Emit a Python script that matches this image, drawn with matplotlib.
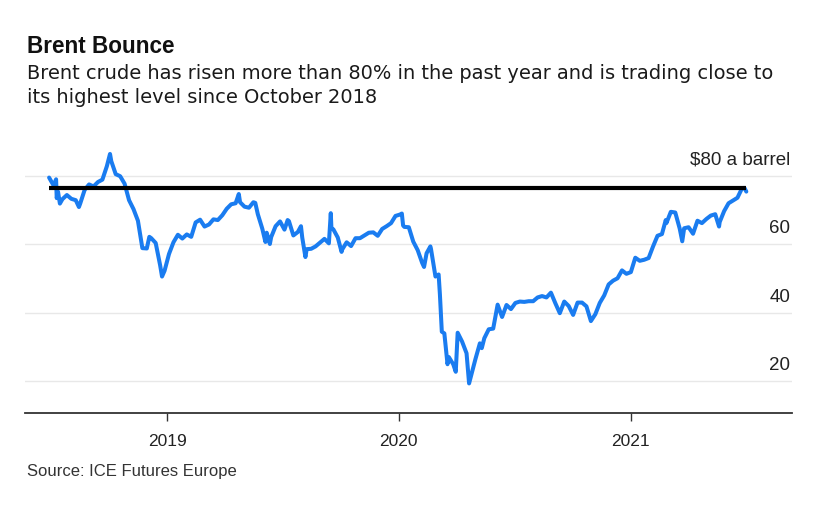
import matplotlib
matplotlib.use("Agg")
import matplotlib.pyplot as plt
import matplotlib.transforms as mtransforms
import pandas as pd

plt.rcParams['font.family'] = ['Liberation Sans', 'DejaVu Sans']

# ---- Data (Brent crude, $ a barrel, weekly Friday closes) ----
values_2018 = [79.4, 77.1, 75.3, 73.1, 74.3, 73.2, 72.8, 71.8, 75.8, 77.4, 76.8, 78.1,
               78.8, 82.7, 84.2, 80.4, 79.8, 77.6, 72.8, 70.2, 66.8, 58.8, 58.7, 61.7,
               60.3, 53.8, 52.2]
values_2019 = [57.1, 60.5, 62.7, 61.6, 62.8, 62.1, 66.3, 67.1, 65.1, 65.7, 67.2, 67.0,
               68.4, 70.3, 71.6, 71.9, 72.2, 70.9, 70.6, 72.2, 68.7, 64.5, 63.3, 62.0,
               65.2, 66.6, 64.2, 66.7, 62.5, 63.5, 61.9, 58.5, 58.6, 59.3, 60.4, 61.5,
               60.2, 64.3, 61.9, 58.4, 60.5, 59.4, 61.7, 61.7, 62.5, 63.3, 63.4, 62.4,
               64.4, 65.2, 66.1, 68.2]
values_2020 = [68.6, 65.0, 64.9, 60.7, 58.2, 54.5, 57.3, 58.5, 50.5, 45.3, 33.9, 27.0,
               24.9, 34.1, 31.5, 28.1, 21.4, 26.4, 31.0, 32.5, 35.1, 35.3, 42.3, 38.7,
               42.2, 41.0, 42.8, 43.2, 43.1, 43.3, 43.3, 44.4, 44.8, 44.4, 45.8, 42.7,
               39.8, 43.2, 41.9, 39.3, 42.9, 42.9, 41.8, 37.5, 39.5, 42.8, 45.0, 48.2,
               49.3, 50.0, 52.3, 51.3]
values_2021 = [51.8, 56.0, 55.1, 55.4, 55.9, 59.3, 62.4, 62.9, 66.1, 69.4, 69.2, 64.5,
               64.6, 64.9, 63.0, 66.8, 66.1, 67.3, 68.3, 68.7, 66.4, 69.6, 71.9, 72.7,
               73.5, 76.2, 75.3]

# notable daily highs/lows visible in the chart
extra_dates = ['2018-07-10', '2018-07-11', '2018-07-16', '2018-08-15', '2018-10-03',
               '2018-12-04', '2018-12-24',
               '2019-04-24', '2019-05-20', '2019-06-05', '2019-06-12', '2019-07-10',
               '2019-07-31', '2019-08-07', '2019-09-16', '2019-09-17', '2019-10-03',
               '2020-01-06', '2020-01-08', '2020-02-10', '2020-02-20', '2020-03-04',
               '2020-03-09', '2020-03-18', '2020-03-31', '2020-04-02', '2020-04-21',
               '2020-05-11',
               '2021-02-25', '2021-03-23', '2021-05-20', '2021-06-29']
extra_values = [78.9, 73.4, 71.8, 70.8, 86.3,
                62.1, 50.5,
                74.6, 72.0, 60.6, 60.0, 67.0,
                65.2, 56.2, 69.0, 64.6, 57.7,
                68.9, 65.4, 53.3, 59.3, 51.1,
                34.4, 24.9, 22.7, 29.9, 19.3,
                29.6,
                67.0, 60.8, 65.1, 76.4]

reference_level = 76.5   # black horizontal line
ytick_values = [20, 40, 60, 80]
ytick_labels = ['20', '40', '60', '$80 a barrel']
xtick_dates = ['2019-01-01', '2020-01-01', '2021-01-01']
xtick_labels = ['2019', '2020', '2021']

title = 'Brent Bounce'
subtitle_1 = 'Brent crude has risen more than 80% in the past year and is trading close to'
subtitle_2 = 'its highest level since October 2018'
source = 'Source: ICE Futures Europe'

# ---- Build series ----
d18 = pd.date_range('2018-06-29', '2018-12-28', freq='W-FRI')
d19 = pd.date_range('2019-01-04', '2019-12-27', freq='W-FRI')
d20 = pd.date_range('2020-01-03', '2020-12-25', freq='W-FRI')
d21 = pd.date_range('2021-01-01', '2021-07-02', freq='W-FRI')
s = pd.concat([
    pd.Series(values_2018, index=d18),
    pd.Series(values_2019, index=d19),
    pd.Series(values_2020, index=d20),
    pd.Series(values_2021, index=d21),
    pd.Series(extra_values, index=pd.to_datetime(extra_dates)),
]).sort_index()

# ---- Figure ----
W, H = 833, 508
fig = plt.figure(figsize=(W / 100, H / 100), dpi=100)
fig.patch.set_facecolor('white')

ax_left, ax_right, ax_bottom, ax_top = 25, 792, 413, 150
ax = fig.add_axes([ax_left / W, 1 - ax_bottom / H,
                   (ax_right - ax_left) / W, (ax_bottom - ax_top) / H])

ax.plot(s.index, s.values, color='#1a7cf0', lw=2.9, solid_joinstyle='round',
        solid_capstyle='round', zorder=3)
ax.hlines(reference_level, s.index[0], s.index[-1], color='black', lw=3.0, zorder=4)

ax.set_xlim(pd.Timestamp('2018-05-22'), pd.Timestamp('2021-09-12'))
ax.set_ylim(10.66, 87.45)

ax.set_yticks(ytick_values)
ax.yaxis.grid(True, color='#e8e8e8', lw=1.0)
ax.set_axisbelow(True)
ax.tick_params(axis='y', left=False, labelleft=False)

ax.set_xticks(pd.to_datetime(xtick_dates))
ax.set_xticklabels(xtick_labels)
ax.tick_params(axis='x', length=6, width=1.0, color='#333333', pad=9,
               labelsize=12.5, labelcolor='#222222')

for side in ['top', 'right', 'left']:
    ax.spines[side].set_visible(False)
ax.spines['bottom'].set_color('#333333')
ax.spines['bottom'].set_linewidth(1.3)

trans = mtransforms.blended_transform_factory(ax.transAxes, ax.transData)
for v, lab in zip(ytick_values, ytick_labels):
    ax.text(0.9974, v + 3.1, lab, transform=trans, ha='right', va='baseline',
            fontsize=13.5, color='#222222')

# ---- Texts ----
t_title = fig.text(27 / W, 1 - 53.3 / H, title, fontsize=15.5, fontweight='bold',
                   color='#111111', ha='left', va='baseline')
t_sub1 = fig.text(27 / W, 1 - 79.3 / H, subtitle_1, fontsize=14, color='#1a1a1a',
                  ha='left', va='baseline', family=['DejaVu Sans'])
t_sub2 = fig.text(27 / W, 1 - 103.3 / H, subtitle_2, fontsize=14, color='#1a1a1a',
                  ha='left', va='baseline', family=['DejaVu Sans'])
fig.text(27 / W, 1 - 476 / H, source, fontsize=12, color='#333333',
         ha='left', va='baseline')

# fit title / subtitle widths to the reference layout
renderer = fig.canvas.get_renderer()
w = t_title.get_window_extent(renderer).width
t_title.set_fontsize(t_title.get_fontsize() * 148.0 / w)
w = t_sub1.get_window_extent(renderer).width
sub_size = t_sub1.get_fontsize() * 748.0 / w
t_sub1.set_fontsize(sub_size)
t_sub2.set_fontsize(sub_size)

fig.savefig('out.png', dpi=100, facecolor='white')
